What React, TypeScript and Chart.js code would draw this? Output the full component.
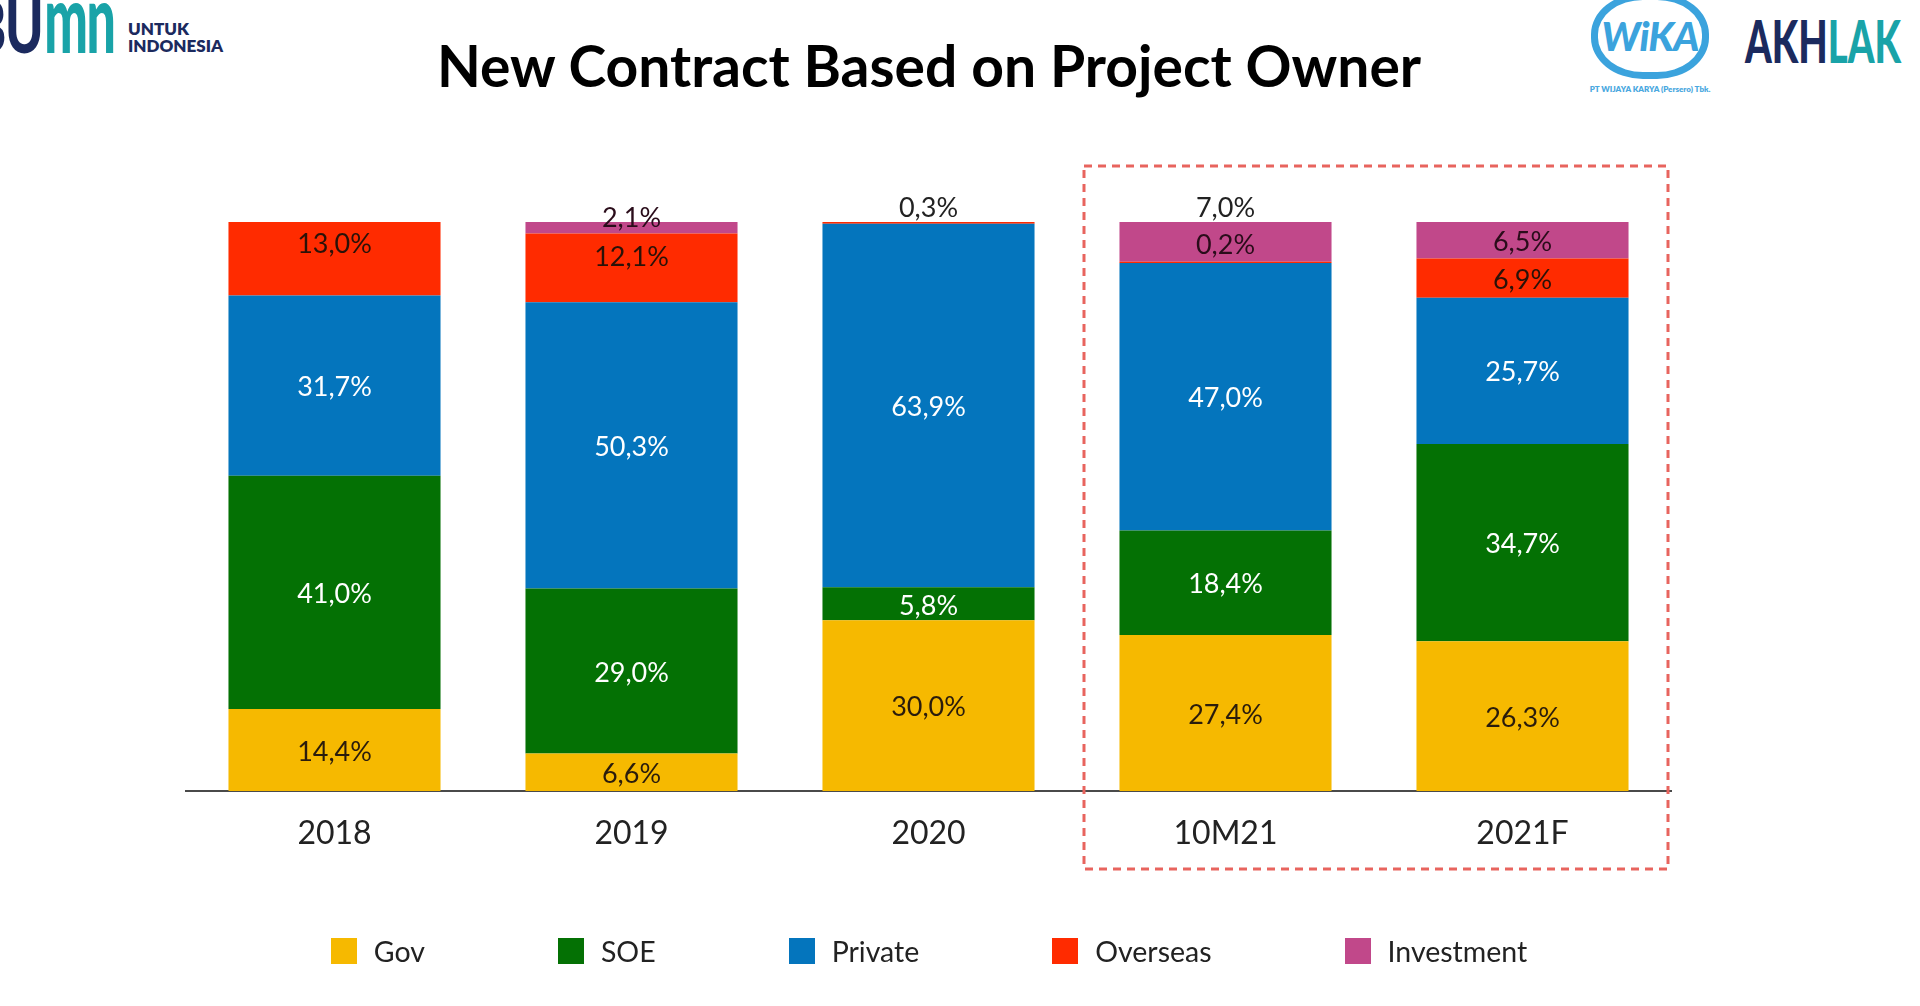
import React, { useEffect, useRef } from 'react';
import { Chart, registerables } from 'chart.js';

Chart.register(...registerables);

// ---- data ----
const categories = ['2018', '2019', '2020', '10M21', '2021F'];
const govValues = [14.4, 6.6, 30.0, 27.4, 26.3];
const soeValues = [41.0, 29.0, 5.8, 18.4, 34.7];
const privateValues = [31.7, 50.3, 63.9, 47.0, 25.7];
const overseasValues = [13.0, 12.1, 0.3, 0.2, 6.9];
const investmentValues = [null, 2.1, null, 7.0, 6.5];
const seriesNames = ['Gov', 'SOE', 'Private', 'Overseas', 'Investment'];
const yMax = 100;

// ---- styles ----
const seriesColors: Record<string, string> = {
  Gov: '#F6B900',
  SOE: '#047104',
  Private: '#0475BD',
  Overseas: '#FF2B00',
  Investment: '#C1488A',
};
const labelColors: Record<string, string> = {
  Gov: '#2a1c0c',
  SOE: '#ffffff',
  Private: '#ffffff',
  Overseas: '#2a1208',
  Investment: '#2a0c1a',
};
// label placement tweaks (as in the original slide)
const labelAbove: [string, string][] = [
  ['2020', 'Overseas'],
  ['10M21', 'Investment'],
];
const labelInSegmentOf: [string, string, string][] = [['10M21', 'Overseas', 'Investment']];
const labelNudge: [string, string, number][] = [
  ['2018', 'Overseas', -16],
  ['2019', 'Overseas', -13],
  ['2019', 'Investment', -11],
];

const fmt = (v: number) => v.toFixed(1).replace('.', ',') + '%';

const segLabelsPlugin = {
  id: 'segLabels',
  afterDatasetsDraw(chart: any) {
    const ctx = chart.ctx;
    ctx.save();
    ctx.font = '27px Lato';
    ctx.textAlign = 'center';
    ctx.textBaseline = 'middle';
    chart.data.datasets.forEach((ds: any, di: number) => {
      const meta = chart.getDatasetMeta(di);
      ds.data.forEach((v: number | null, j: number) => {
        if (v == null) return;
        const cat = categories[j];
        const name = ds.label;
        const el = meta.data[j];
        let colorName: string | null = name;
        let y: number;
        const above = labelAbove.some(([c, n]) => c === cat && n === name);
        const other = labelInSegmentOf.find(([c, n]) => c === cat && n === name);
        if (above) {
          let top = Infinity;
          chart.data.datasets.forEach((d2: any, k: number) => {
            if (d2.data[j] == null) return;
            const e = chart.getDatasetMeta(k).data[j];
            top = Math.min(top, e.y, e.base);
          });
          y = top - 14;
          colorName = null;
        } else if (other) {
          const k = seriesNames.indexOf(other[2]);
          const e = chart.getDatasetMeta(k).data[j];
          y = (e.y + e.base) / 2 + 3;
          colorName = other[2];
        } else {
          y = (el.y + el.base) / 2 + 2;
        }
        const n = labelNudge.find(([c, s]) => c === cat && s === name);
        if (n) y += n[2];
        ctx.fillStyle = colorName ? labelColors[colorName] : '#222222';
        ctx.fillText(fmt(v), el.x, y);
      });
    });
    ctx.restore();
  },
};

const dashedBoxPlugin = {
  id: 'dashedBox',
  afterDraw(chart: any) {
    const { ctx, chartArea } = chart;
    const xs = chart.scales.x;
    const left = xs.getPixelForValue(2.5) + 7;
    const right = chartArea.right - 3;
    const top = chartArea.top - 56;
    const bottom = chartArea.bottom + 78;
    ctx.save();
    ctx.strokeStyle = '#E8645E';
    ctx.lineWidth = 3;
    ctx.setLineDash([8, 6]);
    ctx.strokeRect(left, top, right - left, bottom - top);
    ctx.restore();
  },
};

function ChartCanvas() {
  const ref = useRef<HTMLCanvasElement | null>(null);
  useEffect(() => {
    if (!ref.current) return;
    const values = [govValues, soeValues, privateValues, overseasValues, investmentValues];
    const chart = new Chart(ref.current, {
      type: 'bar',
      data: {
        labels: categories,
        datasets: seriesNames.map((name, i) => ({
          label: name,
          data: values[i] as any,
          backgroundColor: seriesColors[name],
          borderWidth: 0,
          categoryPercentage: 1,
          barPercentage: 0.714,
        })),
      },
      options: {
        responsive: false,
        animation: false,
        devicePixelRatio: 1,
        layout: { padding: { left: 186, right: 249, top: 222, bottom: 145 } },
        plugins: {
          legend: { display: false },
          tooltip: { enabled: false },
          title: { display: false },
        },
        scales: {
          x: {
            stacked: true,
            grid: { display: false, drawTicks: false },
            border: { display: true, color: '#4a4a4a', width: 2 },
            ticks: { color: '#222222', font: { family: 'Lato', size: 32 }, padding: 23 },
            afterFit: (s: any) => {
              s.height = 70;
            },
          },
          y: {
            stacked: true,
            display: false,
            min: 0,
            max: yMax,
          },
        },
      },
      plugins: [segLabelsPlugin, dashedBoxPlugin],
    });
    return () => chart.destroy();
  }, []);
  return (
    <canvas
      ref={ref}
      width={1920}
      height={1006}
      style={{ position: 'absolute', left: 0, top: 0, width: 1920, height: 1006 }}
    />
  );
}

function Legend() {
  return (
    <div
      style={{
        position: 'absolute',
        left: 0,
        width: 1858,
        top: 931,
        height: 40,
        display: 'flex',
        justifyContent: 'center',
        alignItems: 'center',
        fontFamily: 'Lato',
        fontSize: 28.5,
        color: '#222',
      }}
    >
      {seriesNames.map((name, i) => (
        <div
          key={name}
          style={{
            display: 'flex',
            alignItems: 'center',
            marginRight: i < seriesNames.length - 1 ? 133 : 0,
          }}
        >
          <div style={{ width: 26, height: 26, background: seriesColors[name], marginRight: 17 }} />
          <span>{name}</span>
        </div>
      ))}
    </div>
  );
}

export default function App() {
  return (
    <div
      style={{
        position: 'fixed',
        left: 0,
        top: 0,
        width: 1920,
        height: 1006,
        background: '#ffffff',
        overflow: 'hidden',
        fontFamily: 'Lato',
      }}
    >
      {/* BUMN logo */}
      <div
        style={{
          position: 'absolute',
          left: -28,
          top: -11,
          fontFamily: 'Lato',
          fontWeight: 900,
          fontSize: 72,
          lineHeight: '72px',
          whiteSpace: 'nowrap',
          transform: 'scaleX(0.72)',
          transformOrigin: 'left top',
          letterSpacing: -2,
        }}
      >
        <span style={{ color: '#1B2A5E' }}>BU</span>
        <span
          style={{
            color: '#19A3A8',
            display: 'inline-block',
            transform: 'scaleY(1.33)',
            transformOrigin: 'center 88%',
            marginLeft: 3,
          }}
        >
          mn
        </span>
      </div>
      <div
        style={{
          position: 'absolute',
          left: 128,
          top: 20,
          fontFamily: 'Lato',
          fontWeight: 800,
          fontSize: 17,
          lineHeight: '17px',
          color: '#1B2A5E',
        }}
      >
        <div>UNTUK</div>
        <div>INDONESIA</div>
      </div>

      {/* Title */}
      <div
        style={{
          position: 'absolute',
          left: 0,
          width: 1858,
          top: 37,
          textAlign: 'center',
          fontFamily: 'Lato',
          fontWeight: 700,
          fontSize: 57,
          lineHeight: '57px',
          color: '#000',
        }}
      >
        New Contract Based on Project Owner
      </div>

      {/* WIKA logo */}
      <div
        style={{
          position: 'absolute',
          left: 1591,
          top: -7,
          width: 104,
          height: 72,
          border: '7px solid #3BA3DD',
          borderRadius: '44% / 48%',
          display: 'flex',
          alignItems: 'center',
          justifyContent: 'center',
          color: '#3BA3DD',
          fontFamily: 'Lato',
          fontWeight: 900,
          fontStyle: 'italic',
          fontSize: 40,
          letterSpacing: -1,
        }}
      >
        WiKA
      </div>
      <div
        style={{
          position: 'absolute',
          left: 1586,
          top: 84,
          width: 128,
          textAlign: 'center',
          fontFamily: 'Lato',
          fontWeight: 800,
          fontSize: 8,
          color: '#4AA8E0',
          whiteSpace: 'nowrap',
        }}
      >
        PT WIJAYA KARYA (Persero) Tbk.
      </div>

      {/* AKHLAK logo */}
      <div
        style={{
          position: 'absolute',
          left: 1745,
          top: 11,
          fontFamily: 'Lato',
          fontWeight: 900,
          fontSize: 53,
          lineHeight: '53px',
          whiteSpace: 'nowrap',
          transform: 'scale(0.72, 1.1)',
          transformOrigin: 'left top',
        }}
      >
        <span style={{ color: '#1B2A5E' }}>AKH</span>
        <span style={{ color: '#19A3A8' }}>LAK</span>
      </div>

      <ChartCanvas />
      <Legend />
    </div>
  );
}
